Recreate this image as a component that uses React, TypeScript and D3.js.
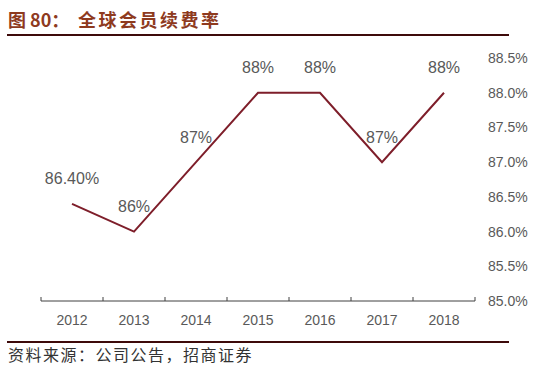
import React from "react";
import * as d3 from "d3";

const years = ["2012", "2013", "2014", "2015", "2016", "2017", "2018"];
const renewal = [86.4, 86.0, 87.0, 88.0, 88.0, 87.0, 88.0];
const pointLabels = ["86.40%", "86%", "87%", "88%", "88%", "87%", "88%"];
const yTicks = [85.0, 85.5, 86.0, 86.5, 87.0, 87.5, 88.0, 88.5];

const W = 549;
const H = 384;

export default function App() {
  const x = d3.scaleBand<string>().domain(years).range([41, 475]);
  const y = d3.scaleLinear().domain([85, 88.5]).range([301, 58]);
  const line = d3
    .line<number>()
    .x((_, i) => (x(years[i]) as number) + x.bandwidth() / 2)
    .y((d) => y(d));
  const gray = "#595959";
  const font = "Arial, 'Liberation Sans', sans-serif";
  return (
    <svg
      width={W}
      height={H}
      style={{ position: "absolute", left: 0, top: 0, background: "#fff" }}
    >
      <text
        x={8}
        y={27}
        fontSize={18}
        fontWeight="bold"
        fill="#8E3A1E"
        fontFamily="'Noto Sans CJK SC', sans-serif"
      >
        <tspan>图 80：</tspan>
        <tspan x={78} letterSpacing={2.5}>全球会员续费率</tspan>
      </text>
      <line x1={7} x2={509} y1={35} y2={35} stroke="#3D0A0A" strokeWidth={2} />

      {/* x axis */}
      <line x1={41} x2={475} y1={301} y2={301} stroke="#404040" strokeWidth={1} />
      {[...years.map((d) => x(d) as number), 475].map((t, i) => (
        <line key={i} x1={t} x2={t} y1={297} y2={301} stroke="#404040" strokeWidth={1} />
      ))}
      {years.map((d) => (
        <text
          key={d}
          x={(x(d) as number) + x.bandwidth() / 2}
          y={320}
          textAnchor="middle"
          dominantBaseline="central"
          fontSize={14}
          fill={gray}
          fontFamily={font}
        >
          {d}
        </text>
      ))}

      {/* y axis labels on right */}
      {yTicks.map((t) => (
        <text
          key={t}
          x={488}
          y={y(t)}
          dominantBaseline="central"
          fontSize={14}
          fill={gray}
          fontFamily={font}
        >
          {t.toFixed(1)}%
        </text>
      ))}

      <path d={line(renewal) || ""} fill="none" stroke="#7E1E2A" strokeWidth={2} />

      {renewal.map((v, i) => (
        <text
          key={i}
          x={(x(years[i]) as number) + x.bandwidth() / 2}
          y={y(v) - 25}
          textAnchor="middle"
          dominantBaseline="central"
          fontSize={16}
          fill={gray}
          fontFamily={font}
        >
          {pointLabels[i]}
        </text>
      ))}

      <line x1={7} x2={509} y1={342} y2={342} stroke="#3D0A0A" strokeWidth={2} />
      <text
        x={8}
        y={361}
        fontSize={16}
        fill="#333"
        letterSpacing={1.5}
        fontFamily="'Noto Sans CJK SC', serif"
      >
        资料来源：公司公告，招商证券
      </text>
    </svg>
  );
}
